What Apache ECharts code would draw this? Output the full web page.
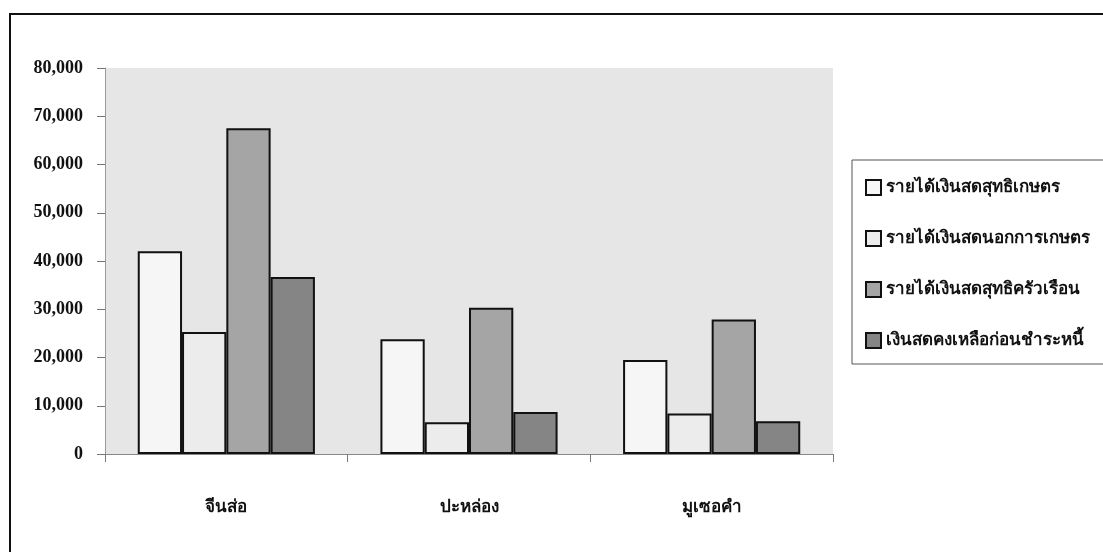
<!DOCTYPE html>
<html>
<head>
<meta charset="utf-8">
<script src="https://cdn.jsdelivr.net/npm/echarts@6/dist/echarts.min.js"></script>
<style>
html,body{margin:0;padding:0;background:#fff;}
#c{width:1103px;height:552px;}
</style>
</head>
<body>
<div id="c"></div>
<script>
const categories = ['จีนส่อ', 'ปะหล่อง', 'มูเซอคำ'];
const seriesNames = ['รายได้เงินสดสุทธิเกษตร', 'รายได้เงินสดนอกการเกษตร', 'รายได้เงินสดสุทธิครัวเรือน', 'เงินสดคงเหลือก่อนชำระหนี้'];
const netFarmCash = [42000, 23800, 19500];
const offFarmCash = [25300, 6600, 8400];
const householdNetCash = [67500, 30300, 27900];
const cashBeforeDebt = [36700, 8700, 6800];
const yTicks = [0, 10000, 20000, 30000, 40000, 50000, 60000, 70000, 80000];

const colors = ['#f6f6f6', '#ececec', '#a5a5a5', '#858585'];
const values = [netFarmCash, offFarmCash, householdNetCash, cashBeforeDebt];

const chart = echarts.init(document.getElementById('c'));
const thaiFont = "'Noto Sans', 'DejaVu Sans', sans-serif";
const serif = "'Liberation Serif', 'Times New Roman', serif";

chart.setOption({
  animation: false,
  backgroundColor: '#ffffff',
  graphic: [
    { type: 'rect', shape: { x: 10, y: 14, width: 1110, height: 560 }, style: { fill: 'none', stroke: '#111', lineWidth: 2 }, z: 0 },
    { type: 'rect', shape: { x: 852, y: 160, width: 270, height: 204 }, style: { fill: '#fff', stroke: '#555', lineWidth: 1 }, z: 1 }
  ],
  grid: { left: 105, top: 68, right: 270, bottom: 98, show: true, backgroundColor: '#e6e6e6', borderWidth: 0 },
  legend: {
    orient: 'vertical', left: 860, top: 174, itemGap: 34,
    itemWidth: 15, itemHeight: 15, icon: 'rect',
    data: seriesNames,
    textStyle: { fontFamily: thaiFont, fontWeight: 'bold', fontSize: 17, color: '#111' },
    z: 5
  },
  xAxis: {
    type: 'category', data: categories,
    axisLine: { lineStyle: { color: '#888', width: 1 } },
    axisTick: { show: true, length: 8, lineStyle: { color: '#777' } },
    axisLabel: { margin: 45, fontFamily: thaiFont, fontWeight: 'bold', fontSize: 17, color: '#111' }
  },
  yAxis: {
    type: 'value', min: yTicks[0], max: yTicks[yTicks.length - 1], interval: 10000,
    axisLine: { show: true, lineStyle: { color: '#999', width: 1 } },
    axisTick: { show: true, length: 8, lineStyle: { color: '#777' } },
    splitLine: { show: false },
    axisLabel: {
      margin: 22, fontFamily: serif, fontWeight: 'bold', fontSize: 18, color: '#111',
      formatter: v => v.toLocaleString('en-US')
    }
  },
  series: seriesNames.map((name, i) => ({
    name, type: 'bar', data: values[i],
    barGap: '0%', barCategoryGap: '27%',
    itemStyle: { color: colors[i], borderColor: '#111', borderWidth: 2 }
  }))
});
</script>
</body>
</html>
